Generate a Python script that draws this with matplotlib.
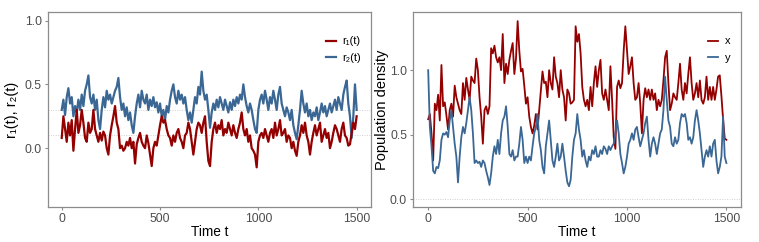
import numpy as np
import matplotlib
matplotlib.use("Agg")
import matplotlib.pyplot as plt

plt.rcParams['font.family'] = ['Liberation Sans Narrow', 'Liberation Sans', 'DejaVu Sans']

# left panel: r1(t), r2(t) at even steps over t = 0..1500
r1 = [0.08, 0.25, 0.15, 0.05, 0.20, 0.10, 0.22, -0.02, 0.15, 0.30,
      0.12, 0.18, 0.30, 0.20, 0.08, 0.05, 0.20, 0.12, 0.15, 0.30,
      0.15, 0.10, 0.05, 0.12, 0.06, 0.13, 0.10, 0.00, -0.05, 0.10,
      0.18, 0.25, 0.33, 0.20, 0.15, 0.00, 0.02, -0.02, 0.00, 0.05,
      0.02, 0.08, 0.00, 0.05, -0.12, 0.03, 0.08, 0.12, 0.05, 0.02,
      0.00, 0.10, 0.04, -0.05, -0.14, 0.00, 0.05, 0.02, 0.10, 0.18,
      0.25, 0.20, 0.22, 0.15, 0.10, 0.08, 0.02, 0.10, 0.05, 0.12,
      0.15, 0.08, 0.05, 0.00, 0.10, 0.12, 0.20, 0.15, 0.05, -0.05,
      0.05, 0.15, 0.20, 0.18, 0.12, 0.20, 0.25, 0.05, -0.10, -0.14,
      0.05, 0.15, 0.20, 0.12, 0.18, 0.15, 0.22, 0.10, 0.15, 0.12,
      0.20, 0.15, 0.10, 0.18, 0.12, 0.08, 0.15, 0.20, 0.28, 0.15,
      0.10, 0.15, 0.05, 0.10, 0.00, -0.02, -0.05, -0.15, 0.05, 0.10,
      0.12, 0.08, 0.15, 0.10, 0.05, 0.12, 0.15, 0.08, 0.20, 0.10,
      0.15, 0.22, 0.10, 0.12, 0.15, 0.05, 0.10, 0.08, 0.00, 0.05,
      -0.02, -0.06, 0.05, 0.10, 0.18, 0.12, 0.20, 0.10, 0.05, -0.05,
      0.05, 0.12, 0.18, 0.10, 0.15, 0.20, 0.05, 0.10, 0.15, 0.08,
      0.12, 0.00, 0.05, 0.12, 0.18, 0.15, 0.10, 0.05, 0.15, 0.20,
      0.10, 0.08, 0.02, 0.03, 0.12, 0.20, 0.15, 0.25]
r2 = [0.30, 0.38, 0.26, 0.40, 0.47, 0.35, 0.40, 0.25, 0.33, 0.28,
      0.38, 0.30, 0.42, 0.33, 0.45, 0.50, 0.57, 0.40, 0.35, 0.42,
      0.30, 0.38, 0.22, 0.15, 0.30, 0.40, 0.32, 0.45, 0.38, 0.42,
      0.35, 0.40, 0.45, 0.48, 0.55, 0.40, 0.30, 0.35, 0.25, 0.32,
      0.22, 0.28, 0.18, 0.12, 0.25, 0.35, 0.42, 0.32, 0.45, 0.38,
      0.35, 0.42, 0.30, 0.38, 0.33, 0.40, 0.32, 0.36, 0.28, 0.35,
      0.25, 0.30, 0.22, 0.33, 0.28, 0.38, 0.45, 0.50, 0.40, 0.35,
      0.45, 0.38, 0.42, 0.35, 0.40, 0.30, 0.22, 0.28, 0.20, 0.30,
      0.40, 0.35, 0.48, 0.42, 0.60, 0.45, 0.38, 0.42, 0.30, 0.16,
      0.28, 0.35, 0.30, 0.38, 0.32, 0.40, 0.35, 0.30, 0.38, 0.33,
      0.28, 0.36, 0.30, 0.38, 0.33, 0.40, 0.35, 0.42, 0.38, 0.50,
      0.40, 0.33, 0.28, 0.35, 0.30, 0.22, 0.15, 0.12, 0.30, 0.38,
      0.42, 0.35, 0.45, 0.38, 0.30, 0.40, 0.35, 0.45, 0.38, 0.30,
      0.42, 0.48, 0.35, 0.30, 0.25, 0.32, 0.28, 0.22, 0.30, 0.18,
      0.12, 0.07, 0.18, 0.30, 0.45, 0.35, 0.28, 0.35, 0.25, 0.30,
      0.22, 0.28, 0.25, 0.32, 0.22, 0.28, 0.35, 0.28, 0.33, 0.25,
      0.30, 0.35, 0.28, 0.33, 0.38, 0.30, 0.40, 0.35, 0.30, 0.42,
      0.48, 0.53, 0.35, 0.25, 0.08, 0.25, 0.50, 0.30]

# right panel: population densities x and y
dens_x = [0.62, 0.66, 0.51, 0.30, 0.74, 0.69, 0.81, 0.61, 1.04, 0.72,
          0.75, 0.65, 0.54, 0.69, 0.74, 0.64, 0.88, 0.79, 0.74, 0.69,
          0.66, 0.90, 0.77, 0.94, 0.85, 0.77, 0.95, 0.92, 0.90, 1.09,
          1.00, 0.79, 0.64, 0.43, 0.69, 0.72, 0.66, 0.72, 1.17, 1.13,
          1.19, 1.10, 1.06, 1.10, 1.00, 1.28, 0.90, 1.05, 0.97, 1.08,
          1.15, 1.21, 0.97, 1.09, 1.38, 1.15, 0.99, 1.01, 0.88, 0.74,
          0.79, 0.64, 0.56, 0.51, 0.57, 0.66, 0.54, 0.69, 0.85, 0.99,
          0.90, 0.91, 0.79, 1.00, 0.90, 0.85, 1.10, 0.95, 0.90, 0.79,
          1.00, 0.85, 0.79, 0.61, 0.85, 0.82, 0.74, 0.75, 0.77, 1.34,
          1.22, 1.28, 1.13, 0.87, 0.77, 0.72, 0.77, 0.69, 0.87, 0.72,
          0.90, 1.03, 0.87, 1.00, 1.08, 0.82, 0.77, 0.85, 0.77, 0.69,
          1.03, 0.77, 0.48, 0.39, 0.87, 0.92, 0.86, 0.90, 1.15, 1.34,
          1.15, 0.97, 1.03, 1.10, 0.90, 0.77, 0.79, 0.90, 0.74, 0.51,
          0.77, 0.86, 0.79, 0.85, 0.77, 0.85, 0.77, 0.82, 0.69, 0.77,
          0.72, 0.77, 0.92, 1.10, 1.15, 0.90, 0.69, 0.74, 0.82, 0.79,
          0.77, 0.90, 1.05, 0.85, 0.77, 0.90, 0.82, 0.97, 1.10, 0.90,
          0.77, 0.82, 0.90, 0.79, 0.92, 0.77, 0.74, 0.79, 0.95, 0.77,
          0.87, 0.77, 0.87, 0.77, 0.85, 0.95, 0.96, 0.80, 0.62, 0.47,
          0.46]
dens_y = [1.00, 0.56, 0.41, 0.22, 0.20, 0.25, 0.24, 0.30, 0.46, 0.51,
          0.50, 0.52, 0.48, 0.61, 0.69, 0.56, 0.43, 0.33, 0.13, 0.33,
          0.48, 0.56, 0.51, 0.59, 0.69, 0.79, 0.69, 0.51, 0.28, 0.30,
          0.28, 0.29, 0.25, 0.30, 0.28, 0.22, 0.17, 0.11, 0.20, 0.33,
          0.41, 0.35, 0.46, 0.35, 0.51, 0.61, 0.64, 0.72, 0.56, 0.35,
          0.33, 0.38, 0.30, 0.33, 0.33, 0.43, 0.56, 0.46, 0.28, 0.33,
          0.28, 0.33, 0.30, 0.41, 0.51, 0.56, 0.66, 0.46, 0.38, 0.25,
          0.20, 0.41, 0.51, 0.61, 0.46, 0.30, 0.25, 0.33, 0.43, 0.30,
          0.33, 0.43, 0.33, 0.22, 0.13, 0.10, 0.15, 0.33, 0.46, 0.51,
          0.66, 0.54, 0.46, 0.33, 0.38, 0.30, 0.25, 0.33, 0.30, 0.38,
          0.35, 0.41, 0.33, 0.33, 0.38, 0.35, 0.41, 0.39, 0.35, 0.41,
          0.38, 0.41, 0.43, 0.51, 0.61, 0.51, 0.35, 0.28, 0.20, 0.25,
          0.33, 0.43, 0.46, 0.51, 0.46, 0.54, 0.56, 0.48, 0.41, 0.46,
          0.51, 0.59, 0.64, 0.46, 0.33, 0.43, 0.48, 0.43, 0.35, 0.43,
          0.51, 0.54, 0.69, 0.95, 0.77, 0.61, 0.56, 0.43, 0.41, 0.48,
          0.43, 0.46, 0.59, 0.66, 0.64, 0.66, 0.59, 0.46, 0.48, 0.43,
          0.48, 0.61, 0.69, 0.61, 0.51, 0.38, 0.25, 0.33, 0.38, 0.33,
          0.41, 0.33, 0.43, 0.46, 0.30, 0.20, 0.25, 0.33, 0.64, 0.33,
          0.28]

t_end = 1500
red = '#940000'
blue = '#3a6794'
tick_col = '#4d4d4d'


def style(ax):
    for s in ax.spines.values():
        s.set_color('#8c8c8c')
        s.set_linewidth(0.9)
    ax.tick_params(colors='#8c8c8c', labelcolor=tick_col, labelsize=8.8,
                   length=2.5, width=0.8, pad=2)
    ax.set_xticks([0, 500, 1000, 1500])
    ax.set_xlabel('Time t', fontsize=9.8, labelpad=0)
    ax.legend(loc='upper right', bbox_to_anchor=(1.0, 0.925), frameon=False,
              fontsize=8, handlelength=0.9, handletextpad=0.6,
              labelspacing=0.55)


fig = plt.figure(figsize=(7.59, 2.42), dpi=100)
ax1 = fig.add_axes([0.0632, 0.145, 0.4256, 0.806])
ax2 = fig.add_axes([0.5445, 0.145, 0.4314, 0.806])

for yv in [0.1, 0.3]:
    ax1.axhline(yv, color='#d0d0d0', lw=0.7, ls=(0, (1, 1.5)), zorder=1)
ax1.plot(np.linspace(0, t_end, len(r1)), r1, color=red, lw=1.6, label='r₁(t)', zorder=3)
ax1.plot(np.linspace(0, t_end, len(r2)), r2, color=blue, lw=1.6, label='r₂(t)', zorder=2)
ax1.set_xlim(-70, 1573)
ax1.set_ylim(-0.46, 1.068)
ax1.set_yticks([0.0, 0.5, 1.0])
ax1.set_ylabel('r₁(t), r₂(t)', fontsize=10.5, labelpad=4)
style(ax1)

ax2.axhline(0.0, color='#d0d0d0', lw=0.7, ls=(0, (1, 1.5)), zorder=1)
ax2.plot(np.linspace(0, t_end, len(dens_x)), dens_x, color=red, lw=1.3, label='x', zorder=2)
ax2.plot(np.linspace(0, t_end, len(dens_y)), dens_y, color=blue, lw=1.3, label='y', zorder=3)
ax2.set_xlim(-75, 1572)
ax2.set_ylim(-0.06, 1.452)
ax2.set_yticks([0.0, 0.5, 1.0])
ax2.set_ylabel('Population density', fontsize=10.5, labelpad=1)
style(ax2)

fig.savefig('out.png', dpi=100)
